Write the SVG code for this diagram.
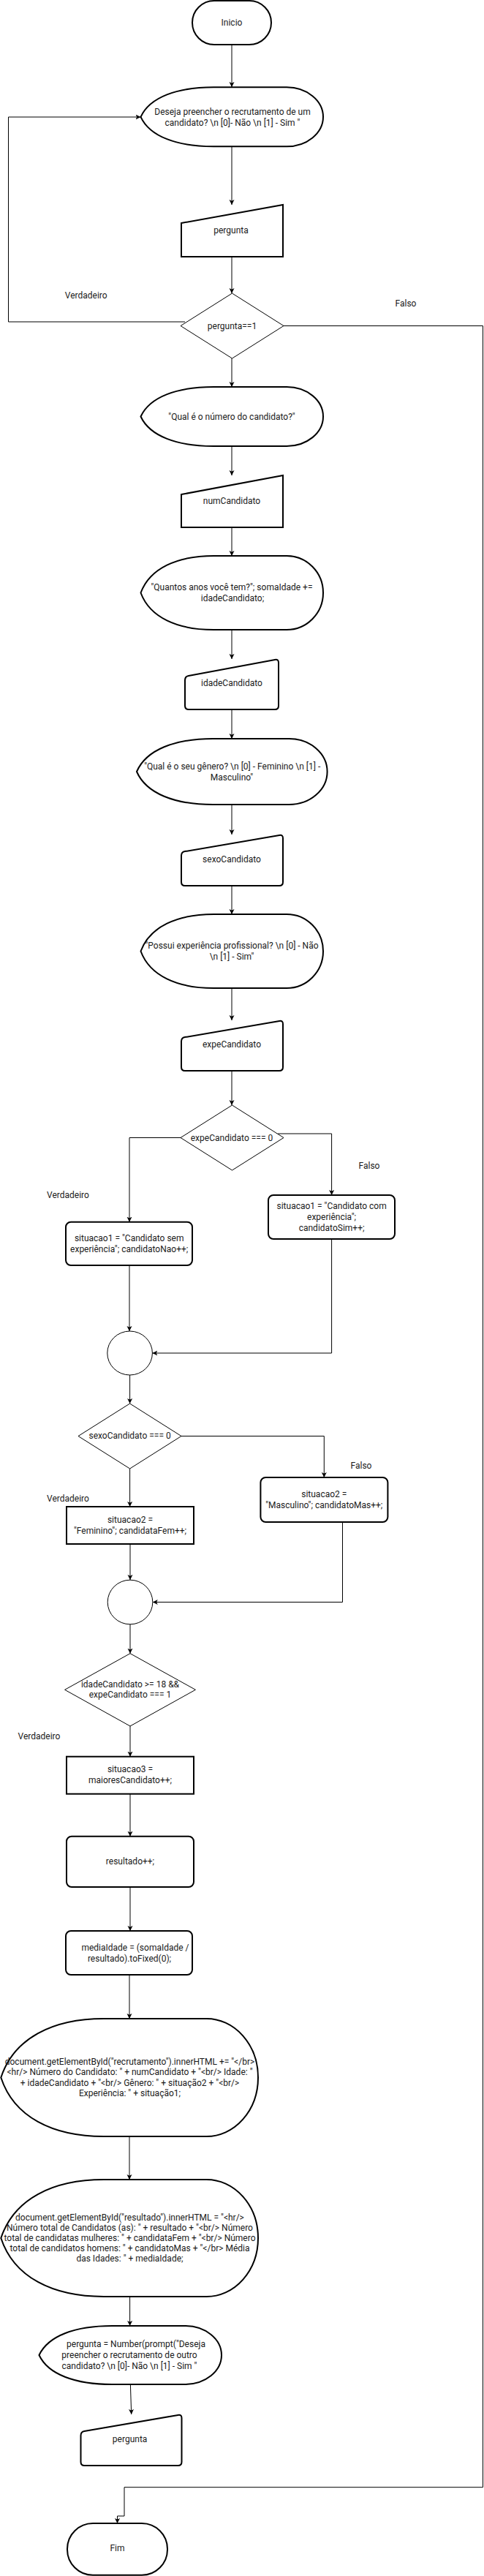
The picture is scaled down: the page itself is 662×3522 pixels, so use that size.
<svg xmlns="http://www.w3.org/2000/svg" width="662" height="3522" viewBox="0 0 662 3522">
<defs>
<marker id="a" markerWidth="10" markerHeight="10" refX="7" refY="3.5" orient="auto" markerUnits="userSpaceOnUse"><path d="M0,0 L7,3.5 L0,7 L1.8,3.5 Z" fill="#000"/></marker>
<style>
.s{fill:#fff;stroke:#000;stroke-width:2}
.t{fill:#fff;stroke:#000;stroke-width:1}
.c{fill:none;stroke:#000;stroke-width:1;marker-end:url(#a)}
.l{fill:none;stroke:#000;stroke-width:1}
text{font-family:Roboto,"Liberation Sans",sans-serif;font-size:12px;fill:#1a1a1a;text-anchor:middle}
</style>
</defs>
<rect width="662" height="3522" fill="#fff"/>
<g id="connectors">
<path class="c" d="M317,61 V119"/>
<path class="c" d="M317,200.5 V280"/>
<path class="c" d="M317,351 V401"/>
<path class="c" d="M317,490 V529"/>
<path class="c" d="M317,610 V650"/>
<path class="c" d="M317,721 V760"/>
<path class="c" d="M317,861 V901"/>
<path class="c" d="M317,970 V1010"/>
<path class="c" d="M317,1100 V1141"/>
<path class="c" d="M317,1211 V1250"/>
<path class="c" d="M317,1351 V1395"/>
<path class="c" d="M317,1464 V1511"/>
<path class="c" d="M247,1555.5 H177 V1670.7"/>
<path class="c" d="M380,1550 H453.6 V1634"/>
<path class="c" d="M177,1730 V1820"/>
<path class="c" d="M453.6,1694 V1850 H208.4"/>
<path class="c" d="M177.6,1880 V1919"/>
<path class="c" d="M248,1963.5 H443.3 V2020"/>
<path class="c" d="M177.6,2008 V2060"/>
<path class="c" d="M178,2111 V2160"/>
<path class="c" d="M468.5,2081 V2190.5 H208.8"/>
<path class="c" d="M178,2221 V2260.7"/>
<path class="c" d="M178,2360 V2401.7"/>
<path class="c" d="M178,2452.7 V2510.7"/>
<path class="c" d="M178,2580 V2640"/>
<path class="c" d="M177,2700 V2760"/>
<path class="c" d="M177,2921 V2980"/>
<path class="c" d="M177.6,3140 V3180"/>
<path class="c" d="M178.4,3260 L179.7,3301"/>
<path class="c" d="M253,440 H11.5 V160 H192.5"/>
<path class="c" d="M388,445.5 H660.5 V3400.7 H170 V3440 H160.5 V3450"/>
</g>
<g id="labels">
<text x="117.7" y="408">Verdadeiro</text>
<text x="555" y="419">Falso</text>
<text x="505" y="1598">Falso</text>
<text x="93" y="1638">Verdadeiro</text>
<text x="494" y="2008">Falso</text>
<text x="93" y="2053.3">Verdadeiro</text>
<text x="53.5" y="2378.3">Verdadeiro</text>
</g>
<g id="inicio">
<rect class="s" x="263" y="1" width="108" height="60" rx="30"/>
<text x="317" y="34.5">Inicio</text>
</g>
<g id="display1">
<path class="s" d="M192.5,159.8 C205,132.8 242.4,119.3 292.3,119.3 H392.1 A49.9,40.5 0 0 1 392.1,200.3 H292.3 C242.4,200.3 205,186.8 192.5,159.8 Z"/>
<text x="318" y="157">Deseja preencher o recrutamento de um</text>
<text x="318" y="172">candidato? \n [0]- Não \n [1] - Sim "</text>
</g>
<g id="input1">
<path class="s" d="M248,305 L387,280 L387,351 L248,351 Z"/>
<text x="316" y="319">pergunta</text>
</g>
<g id="decision1">
<polygon class="t" points="317.5,401 388,445.5 317.5,490 247,445.5"/>
<text x="317.5" y="449.5">pergunta==1</text>
</g>
<g id="display2">
<path class="s" d="M192.5,569.5 C205,542.5 242.4,529 292.3,529 H392.1 A49.9,40.5 0 0 1 392.1,610 H292.3 C242.4,610 205,596.5 192.5,569.5 Z"/>
<text x="317" y="574">"Qual é o número do candidato?"</text>
</g>
<g id="input2">
<path class="s" d="M248,676 L387,650 L387,721 L248,721 Z"/>
<text x="317" y="689">numCandidato</text>
</g>
<g id="display3">
<path class="s" d="M192.5,810.5 C205,776.8 242.4,760 292.3,760 H392.1 A49.9,50.5 0 0 1 392.1,861 H292.3 C242.4,861 205,844.2 192.5,810.5 Z"/>
<text x="317" y="807">"Quantos anos você tem?"; somaIdade +=</text>
<text x="318" y="822">idadeCandidato;</text>
</g>
<g id="input3">
<path class="s" d="M253,930 Q253,925 257.9,924.1 L376.1,901.9 Q381,901 381,906 L381,965 Q381,970 376,970 L258,970 Q253,970 253,965 Z"/>
<text x="317" y="938">idadeCandidato</text>
</g>
<g id="display4">
<path class="s" d="M187,1055 C200,1025 239.1,1010 291.2,1010 H395.5 A52.1,45 0 0 1 395.5,1100 H291.2 C239.1,1100 200,1085 187,1055 Z"/>
<text x="317.7" y="1052">"Qual é o seu gênero? \n [0] - Feminino \n [1] -</text>
<text x="317" y="1067">Masculino"</text>
</g>
<g id="input4">
<path class="s" d="M248,1170 Q248,1165 252.9,1164.1 L382.1,1141.9 Q387,1141 387,1146 L387,1206 Q387,1211 382,1211 L253,1211 Q248,1211 248,1206 Z"/>
<text x="317" y="1179">sexoCandidato</text>
</g>
<g id="display5">
<path class="s" d="M192.5,1300.5 C205,1266.8 242.4,1250 292.3,1250 H392.1 A49.9,50.5 0 0 1 392.1,1351 H292.3 C242.4,1351 205,1334.2 192.5,1300.5 Z"/>
<text x="317" y="1297">"Possui experiência profissional? \n [0] - Não</text>
<text x="317" y="1311.5">\n [1] - Sim"</text>
</g>
<g id="input5">
<path class="s" d="M248,1424 Q248,1419 252.9,1418.1 L382.1,1395.9 Q387,1395 387,1400 L387,1459 Q387,1464 382,1464 L253,1464 Q248,1464 248,1459 Z"/>
<text x="317" y="1432">expeCandidato</text>
</g>
<g id="decision2">
<polygon class="t" points="317.5,1511 388,1555.5 317.5,1600 247,1555.5"/>
<text x="317" y="1559.5">expeCandidato === 0</text>
</g>
<g id="situacao1-sem">
<rect class="s" x="90" y="1670.7" width="173" height="59.3" rx="7"/>
<text x="176.7" y="1696.7">situacao1 = "Candidato sem</text>
<text x="176.7" y="1711.7">experiência"; candidatoNao++;</text>
</g>
<g id="situacao1-com">
<rect class="s" x="367" y="1634" width="173" height="60" rx="7"/>
<text x="453.6" y="1653">situacao1 = "Candidato com</text>
<text x="453.6" y="1667.5">experiência";</text>
<text x="453.6" y="1682.5">candidatoSim++;</text>
</g>
<g id="merge1">
<ellipse class="t" cx="177.6" cy="1850" rx="30.8" ry="30"/>
</g>
<g id="decision3">
<polygon class="t" points="177.6,1919 248,1963.5 177.6,2008 107,1963.5"/>
<text x="177.6" y="1967">sexoCandidato === 0</text>
</g>
<g id="situacao2-masc">
<rect class="s" x="356.4" y="2020" width="174" height="61" rx="7"/>
<text x="443.3" y="2046.7">situacao2 =</text>
<text x="443.3" y="2061.7">"Masculino"; candidatoMas++;</text>
</g>
<g id="situacao2-fem">
<rect class="s" x="91" y="2060" width="174" height="51"/>
<text x="178" y="2081.7">situacao2 =</text>
<text x="178" y="2096.7">"Feminino"; candidataFem++;</text>
</g>
<g id="merge2">
<ellipse class="t" cx="178" cy="2190.5" rx="30.8" ry="30.3"/>
</g>
<g id="decision4">
<polygon class="t" points="178,2260.7 267.4,2310.3 178,2360 88.6,2310.3"/>
<text x="178" y="2306.7">idadeCandidato &gt;= 18 &amp;&amp;</text>
<text x="178" y="2320.7">expeCandidato === 1</text>
</g>
<g id="situacao3">
<rect class="s" x="91" y="2401.7" width="174" height="51"/>
<text x="178" y="2423.3">situacao3 =</text>
<text x="178" y="2438.3">maioresCandidato++;</text>
</g>
<g id="resultado">
<rect class="s" x="91" y="2510.7" width="174" height="69.3" rx="7"/>
<text x="178" y="2549">resultado++;</text>
</g>
<g id="media">
<rect class="s" x="90" y="2640" width="173" height="60" rx="7"/>
<text x="185" y="2666.7">mediaIdade = (somaIdade /</text>
<text x="177" y="2682.3">resultado).toFixed(0);</text>
</g>
<g id="display6">
<path class="s" d="M1.3,2840.5 C18.9,2786.8 71.6,2760 142,2760 H282.7 A70.3,80.5 0 0 1 282.7,2921 H142 C71.6,2921 18.9,2894.2 1.3,2840.5 Z"/>
<text x="177.5" y="2823.3">document.getElementById("recrutamento").innerHTML += "&lt;/br&gt;</text>
<text x="177.5" y="2837.3">&lt;hr/&gt; Número do Candidato: " + numCandidato + "&lt;br/&gt; Idade: "</text>
<text x="177.5" y="2851.7">+ idadeCandidato + "&lt;br/&gt; Gênero: " + situação2 + "&lt;br/&gt;</text>
<text x="177.5" y="2865.7">Experiência: " + situação1;</text>
</g>
<g id="display7">
<path class="s" d="M1.3,3060 C18.9,3006.7 71.6,2980 142,2980 H282.7 A70.3,80 0 0 1 282.7,3140 H142 C71.6,3140 18.9,3113.3 1.3,3060 Z"/>
<text x="177.5" y="3035.7">document.getElementById("resultado").innerHTML = "&lt;hr/&gt;</text>
<text x="177.5" y="3050">Número total de Candidatos (as): " + resultado + "&lt;br/&gt; Número</text>
<text x="177.5" y="3064">total de candidatas mulheres: " + candidataFem + "&lt;br/&gt; Número</text>
<text x="177.5" y="3078">total de candidatos homens: " + candidatoMas + "&lt;/br&gt; Média</text>
<text x="177.5" y="3092.3">das Idades: " + mediaIdade;</text>
</g>
<g id="display8">
<path class="s" d="M53.5,3220 C66,3193.3 103.4,3180 153.3,3180 H253.1 A49.9,40 0 0 1 253.1,3260 H153.3 C103.4,3260 66,3246.7 53.5,3220 Z"/>
<text x="186" y="3209">pergunta = Number(prompt("Deseja</text>
<text x="177" y="3224">preencher o recrutamento de outro</text>
<text x="177" y="3239">candidato? \n [0]- Não \n [1] - Sim "</text>
</g>
<g id="input6">
<path class="s" d="M110.5,3330 Q110.5,3325 115.4,3324.1 L243.6,3301.9 Q248.5,3301 248.5,3306 L248.5,3366 Q248.5,3371 243.5,3371 L115.5,3371 Q110.5,3371 110.5,3366 Z"/>
<text x="177.6" y="3339">pergunta</text>
</g>
<g id="fim">
<rect class="s" x="92" y="3450" width="137" height="70.7" rx="35"/>
<text x="160.5" y="3488.3">Fim</text>
</g>
</svg>
